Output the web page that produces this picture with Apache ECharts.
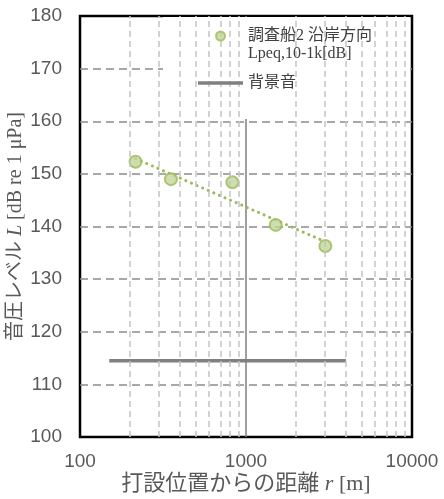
<!DOCTYPE html>
<html>
<head>
<meta charset="utf-8">
<script src="https://cdn.jsdelivr.net/npm/echarts@6/dist/echarts.min.js"></script>
<style>html,body{margin:0;padding:0;background:#fff;}#c{width:444px;height:499px;}</style>
</head>
<body>
<div id="c"></div>
<script>
// Data
const distances = [216, 353, 828, 1510, 3006];
const levels = [152.3, 149.0, 148.4, 140.3, 136.3];
const trendX = [216, 3006];
const trendY = [152.9, 137.1];
const bgX = [150, 4000];
const bgY = [114.5, 114.5];
const minorGridX = [200, 300, 400, 500, 600, 700, 800, 900, 2000, 3000, 4000, 5000, 6000, 7000, 8000, 9000];
const seriesName = '調査船2 沿岸方向';
const seriesSub = 'Lpeq,10-1k[dB]';
const bgName = '背景音';

const SERIF = '"Liberation Serif", "Noto Sans CJK JP", serif';
const chart = echarts.init(document.getElementById('c'), null, {renderer: 'canvas'});
chart.setOption({
  animation: false,
  backgroundColor: '#fff',
  grid: {left: 80, right: 32, top: 16, bottom: 62, show: true, borderColor: '#000', borderWidth: 2.5,
    backgroundColor: 'transparent', containLabel: false, outerBoundsMode: 'none'},
  xAxis: {
    type: 'log', logBase: 10, min: 100, max: 10000,
    axisLine: {show: false}, axisTick: {show: false},
    splitLine: {show: true, showMinLine: false, showMaxLine: false, lineStyle: {color: '#7f7f7f', width: 1.5, type: 'solid'}},
    axisLabel: {fontFamily: '"Liberation Sans", Arial, sans-serif', fontSize: 19, color: '#595959', margin: 15,
      formatter: v => String(Math.round(v))},
    name: '{a|打設位置からの距離 }{r|r}{a| [m]}',
    nameLocation: 'middle', nameGap: 36, nameMoveOverlap: false,
    nameTextStyle: {rich: {
      a: {fontFamily: SERIF, fontSize: 22, color: '#595959'},
      r: {fontFamily: SERIF, fontSize: 22, fontStyle: 'italic', color: '#595959'}
    }}
  },
  yAxis: {
    type: 'value', min: 100, max: 180, interval: 10,
    axisLine: {show: false}, axisTick: {show: false},
    splitLine: {show: true, showMinLine: false, showMaxLine: false, lineStyle: {color: '#8c8c8c', width: 1.5, type: [8, 5]}},
    axisLabel: {fontFamily: '"Liberation Sans", Arial, sans-serif', fontSize: 19, color: '#595959', margin: 18},
    name: '{a|音圧レベル }{r|L}{a| [dB re 1 μPa]}',
    nameLocation: 'middle', nameGap: 54, nameMoveOverlap: false,
    nameTextStyle: {rich: {
      a: {fontFamily: SERIF, fontSize: 20, color: '#595959'},
      r: {fontFamily: SERIF, fontSize: 20, fontStyle: 'italic', color: '#595959'}
    }}
  },
  legend: {
    orient: 'vertical', left: 198, top: 27, z: 6,
    padding: 0,
    itemWidth: 45, itemHeight: 9, itemGap: 29,
    data: [seriesName, {name: bgName, icon: 'path://M0 0H45V3.5H0Z'}],
    textStyle: {fontFamily: SERIF, fontSize: 16, lineHeight: 18, color: '#404040'}
  },
  graphic: [
    {type: 'rect', left: 163, top: 17, z: 4, silent: true,
     shape: {width: 247, height: 102}, style: {fill: '#fff'}},
    {type: 'text', left: 248, top: 46, z: 100,
     style: {text: seriesSub, font: '16px "Liberation Serif", serif', fill: '#404040'}}
  ],
  series: [
    {
      name: 'grid-minor', type: 'line', data: [], z: 1, silent: true,
      markLine: {silent: true, symbol: 'none', label: {show: false}, animation: false,
        lineStyle: {color: '#c4c4c4', width: 1.5, type: [6, 4]},
        data: minorGridX.map(x => ({xAxis: x}))}
    },
    {
      name: 'trend', type: 'line', z: 2, symbol: 'none', silent: true,
      data: trendX.map((x, i) => [x, trendY[i]]),
      lineStyle: {color: '#9bbb59', width: 3, type: [0.1, 6], cap: 'round'}
    },
    {
      name: bgName, type: 'line', z: 2, symbol: 'none',
      data: bgX.map((x, i) => [x, bgY[i]]),
      lineStyle: {color: '#808080', width: 3.5},
      itemStyle: {color: '#808080'}
    },
    {
      name: seriesName, type: 'scatter', z: 3, symbol: 'circle', symbolSize: 12,
      data: distances.map((x, i) => [x, levels[i]]),
      itemStyle: {color: '#c3d69b', borderColor: '#9bbb59', borderWidth: 2}
    }
  ]
});
</script>
</body>
</html>
